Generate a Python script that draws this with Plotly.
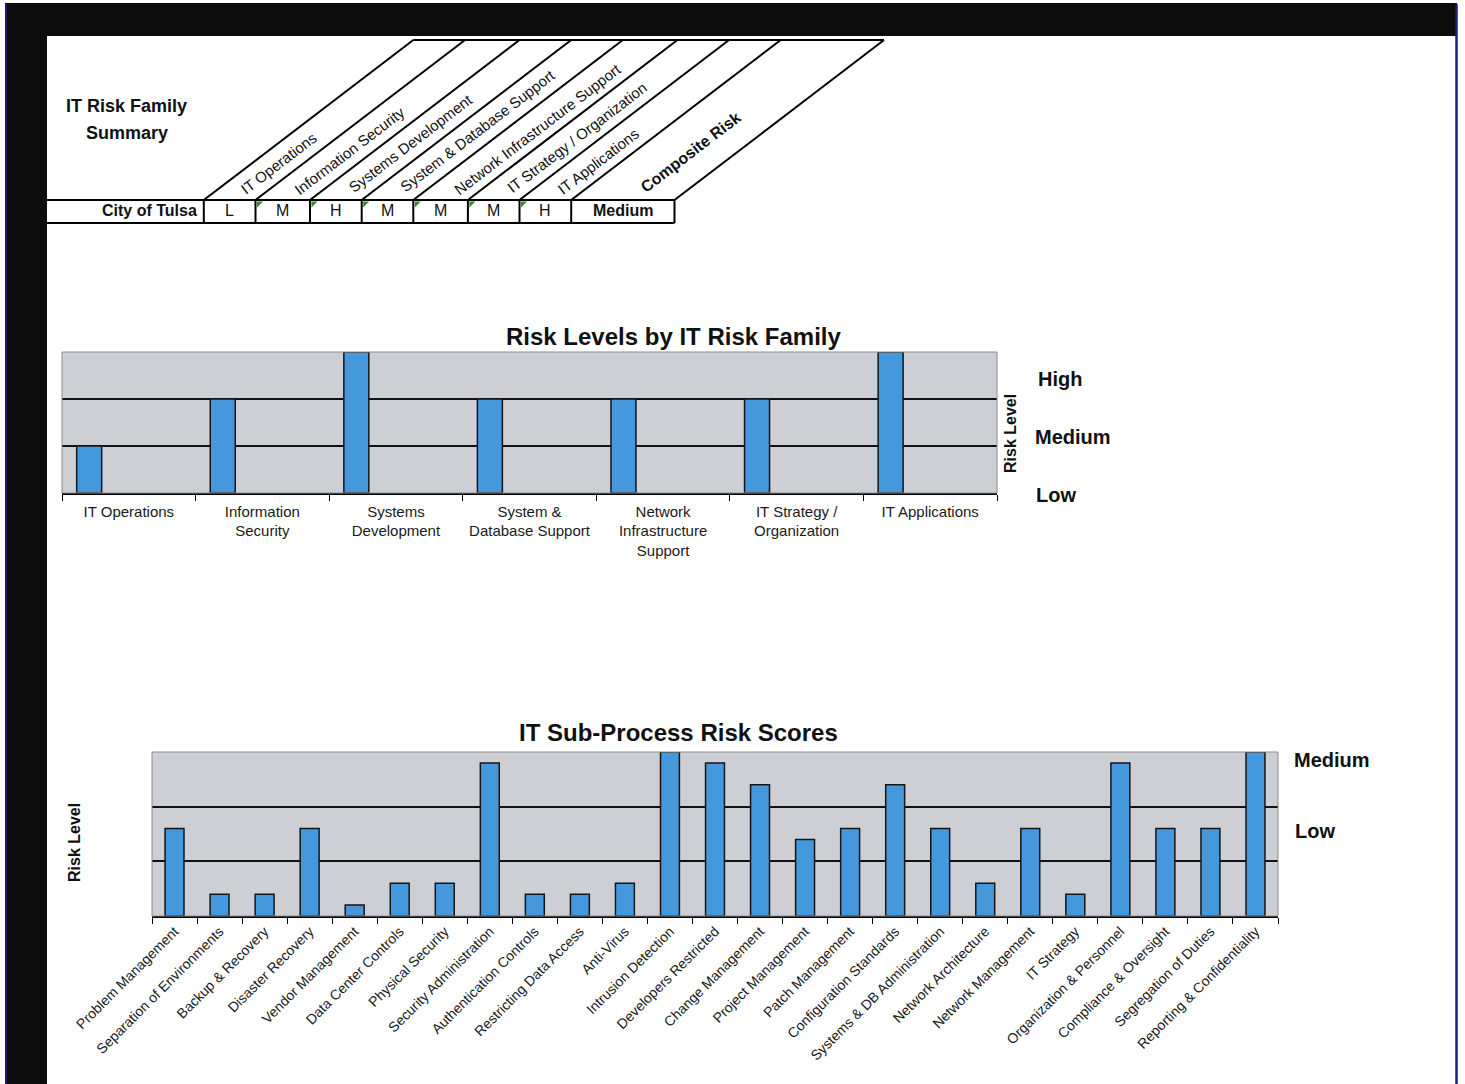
import plotly.graph_objects as go

W, H = 1465, 1084


def X(p):
    return p / W


def Y(p):
    return 1 - p / H


# ---------------- DATA ----------------
families = ["IT Operations", "Information Security", "Systems Development",
            "System & Database Support", "Network Infrastructure Support",
            "IT Strategy / Organization", "IT Applications"]
family_tick_labels = ["IT Operations", "Information<br>Security", "Systems<br>Development",
                      "System &<br>Database Support", "Network<br>Infrastructure<br>Support",
                      "IT Strategy /<br>Organization", "IT Applications"]
family_levels = [1, 2, 3, 2, 2, 2, 3]
level_codes = {1: "L", 2: "M", 3: "H"}
family_axis_labels = ["Low", "Medium", "High"]
entity = "City of Tulsa"
composite_label = "Composite Risk"
composite_risk = "Medium"

subprocesses = ["Problem Management", "Separation of Environments", "Backup & Recovery",
                "Disaster Recovery", "Vendor Management", "Data Center Controls",
                "Physical Security", "Security Administration", "Authentication Controls",
                "Restricting Data Access", "Anti-Virus", "Intrusion Detection",
                "Developers Restricted", "Change Management", "Project Management",
                "Patch Management", "Configuration Standards", "Systems & DB Administration",
                "Network Architecture", "Network Management", "IT Strategy",
                "Organization & Personnel", "Compliance & Oversight", "Segregation of Duties",
                "Reporting & Confidentiality"]
subprocess_scores = [1.6, 0.4, 0.4, 1.6, 0.2, 0.6, 0.6, 2.8, 0.4, 0.4, 0.6, 3.0, 2.8,
                     2.4, 1.4, 1.6, 2.4, 1.6, 0.6, 1.6, 0.4, 2.8, 1.6, 1.6, 3.0]
subprocess_axis_labels = ["Low", "Medium"]

# ---------------- STYLE ----------------
FONT = "Liberation Sans, Arial, sans-serif"
GRAY_BG = "#CDCFD4"
BAR = "#4698DD"
BAR_LINE = "#151515"

fig = go.Figure()

fig.add_trace(go.Bar(
    x=families, y=family_levels, xaxis="x", yaxis="y",
    marker=dict(color=BAR, line=dict(color=BAR_LINE, width=1.5)),
    offset=-0.39, width=0.187, showlegend=False, hoverinfo="x+y"))

fig.add_trace(go.Bar(
    x=subprocesses, y=subprocess_scores, xaxis="x2", yaxis="y2",
    marker=dict(color=BAR, line=dict(color=BAR_LINE, width=1.5)),
    width=0.42, showlegend=False, hoverinfo="x+y"))

# plot areas (pixels)
c1 = dict(l=62, r=997, t=352, b=493)
c2 = dict(l=152, r=1278, t=752, b=916)

fig.update_layout(
    width=W, height=H, autosize=False,
    margin=dict(l=0, r=0, t=0, b=0, pad=0, autoexpand=False),
    paper_bgcolor="white", plot_bgcolor=GRAY_BG,
    font=dict(family=FONT, color="#111"),
    xaxis=dict(domain=[X(c1["l"]), X(c1["r"])], anchor="y", type="category",
               categoryorder="array", categoryarray=families,
               tickvals=families, ticktext=family_tick_labels, tickangle=0,
               tickson="boundaries", ticks="outside", ticklen=6, tickcolor="black",
               tickwidth=1.2, showline=True, linecolor="black", linewidth=1.5,
               ticklabelstandoff=4,
               tickfont=dict(size=15, family=FONT, color="#1a1a1a"),
               showgrid=False, zeroline=False, fixedrange=True, automargin=False),
    yaxis=dict(domain=[Y(c1["b"]), Y(c1["t"])], anchor="x", range=[0, 3],
               tickvals=[1, 2], showticklabels=False, showgrid=True,
               gridcolor="#111", gridwidth=1.6, zeroline=False, fixedrange=True,
               showline=False, automargin=False),
    xaxis2=dict(domain=[X(c2["l"]), X(c2["r"])], anchor="y2", type="category",
                categoryorder="array", categoryarray=subprocesses,
                tickson="boundaries", ticks="outside", ticklen=6, tickcolor="black",
                tickwidth=1.2, showline=True, linecolor="black", linewidth=1.5,
                tickangle=-45, tickfont=dict(size=14, family=FONT, color="#1a1a1a"),
                showgrid=False, zeroline=False, fixedrange=True, automargin=False),
    yaxis2=dict(domain=[Y(c2["b"]), Y(c2["t"])], anchor="x2", range=[0, 3],
                tickvals=[1, 2], showticklabels=False, showgrid=True,
                gridcolor="#111", gridwidth=1.6, zeroline=False, fixedrange=True,
                showline=False, automargin=False),
)

shapes = []
# page frame (scan border)
shapes.append(dict(type="rect", xref="paper", yref="paper", x0=X(5), x1=X(1457),
                   y0=Y(36), y1=Y(3), fillcolor="#0c0c0c", line=dict(width=0), layer="above"))
shapes.append(dict(type="rect", xref="paper", yref="paper", x0=X(5), x1=X(47),
                   y0=Y(1084), y1=Y(3), fillcolor="#0c0c0c", line=dict(width=0), layer="above"))
shapes.append(dict(type="line", xref="paper", yref="paper", x0=X(6), x1=X(6),
                   y0=Y(1084), y1=Y(4), line=dict(color="#1b1b70", width=2), layer="above"))
shapes.append(dict(type="line", xref="paper", yref="paper", x0=X(1456.5), x1=X(1456.5),
                   y0=Y(1084), y1=Y(4), line=dict(color="#1b1b8a", width=2.5), layer="above"))

# plot area borders
for c in (c1, c2):
    shapes.append(dict(type="rect", xref="paper", yref="paper", x0=X(c["l"]), x1=X(c["r"]),
                       y0=Y(c["b"]), y1=Y(c["t"]), line=dict(color="#8c8c8c", width=1),
                       fillcolor="rgba(0,0,0,0)", layer="above"))

# ---- top summary table ----
dividers = [203.8, 255.5, 310, 361.7, 413.3, 467.9, 519.5, 571.2, 674.5]
row_top, row_bot, top_y = 200, 223, 40
dx = 209.5
LW = 2
for yy in (row_top, row_bot):
    shapes.append(dict(type="line", xref="paper", yref="paper", x0=X(47), x1=X(dividers[-1]),
                       y0=Y(yy), y1=Y(yy), line=dict(color="black", width=LW)))
for xv in dividers:
    shapes.append(dict(type="line", xref="paper", yref="paper", x0=X(xv), x1=X(xv),
                       y0=Y(row_bot), y1=Y(row_top), line=dict(color="black", width=LW)))
    shapes.append(dict(type="line", xref="paper", yref="paper", x0=X(xv), x1=X(xv + dx),
                       y0=Y(row_top), y1=Y(top_y), line=dict(color="black", width=LW)))
shapes.append(dict(type="line", xref="paper", yref="paper", x0=X(dividers[0] + dx),
                   x1=X(dividers[-1] + dx), y0=Y(top_y), y1=Y(top_y),
                   line=dict(color="black", width=LW)))
# small green cell markers
for xv in dividers[1:7]:
    x0 = xv + 1.5
    path = f"M {X(x0)} {Y(row_top + 1.5)} L {X(x0 + 6)} {Y(row_top + 1.5)} L {X(x0)} {Y(row_top + 7.5)} Z"
    shapes.append(dict(type="path", xref="paper", yref="paper", path=path,
                       fillcolor="#2e8b2e", line=dict(width=0)))

fig.update_layout(shapes=shapes)

ann = []


def A(text, x, y, size, bold=False, xanchor="center", yanchor="middle", angle=0, color="#111"):
    t = f"<b>{text}</b>" if bold else text
    ann.append(dict(text=t, x=X(x), y=Y(y), xref="paper", yref="paper", showarrow=False,
                    xanchor=xanchor, yanchor=yanchor, textangle=angle,
                    font=dict(size=size, family=FONT, color=color)))


# table titles
A("IT Risk Family", 127, 106, 18, bold=True)
A("Summary", 127, 133, 18, bold=True)
A(entity, 199, 211, 16, bold=True, xanchor="right")
for i, lv in enumerate(family_levels):
    A(level_codes[lv], (dividers[i] + dividers[i + 1]) / 2, 211, 16)
A(composite_risk, (dividers[7] + dividers[8]) / 2, 211, 16, bold=True)

header_centers = [(278, 163), (350, 151), (410, 143), (478, 131), (537, 129), (577, 138), (598, 162)]
for name, (cx, cy) in zip(families, header_centers):
    A(name, cx, cy, 15, angle=-37.4)
A(composite_label, 690, 152, 16, bold=True, angle=-37.4)

# chart 1 text
A("Risk Levels by IT Risk Family", 673, 336, 24, bold=True)
for lab, (lx, ly) in zip(family_axis_labels, [(1034, 495), (1033, 437), (1036, 379)]):
    A(lab, lx, ly, 20, bold=True, xanchor="left")
A("Risk Level", 1010, 434, 16, bold=True, angle=-90)

# chart 2 text
A("IT Sub-Process Risk Scores", 678, 732, 24, bold=True)
for lab, (lx, ly) in zip(subprocess_axis_labels, [(1293, 831), (1292, 760)]):
    A(lab, lx, ly, 20, bold=True, xanchor="left")
A("Risk Level", 74, 843, 16, bold=True, angle=-90)

fig.update_layout(annotations=ann)

fig.write_html("out.html")
